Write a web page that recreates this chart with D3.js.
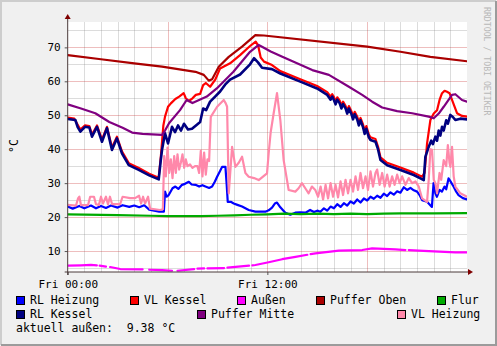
<!DOCTYPE html>
<html lang="de">
<head>
<meta charset="utf-8">
<title>Heizung</title>
<script src="https://cdn.jsdelivr.net/npm/d3@7"></script>
<style>
  body { margin: 0; background: #f0f0f0; }
  svg { display: block; font-family: "DejaVu Sans Mono", monospace; }
  .grid line { shape-rendering: crispEdges; }
  .grid path { display: none; }
  .series { fill: none; stroke-linejoin: round; stroke-linecap: round; }
</style>
</head>
<body>
<svg id="chart" width="497" height="346"></svg>
<script>

// hours since Fri 00:00 -> value in °C, null = gap in the data
var rlHeizung = [[0,23.1],[0.3,22.5],[0.7,23.3],[1.0,22.6],[1.4,23.4],[1.7,22.6],[2.0,23.3],[2.3,22.7],[2.6,23.4],[3.0,22.8],[3.3,23.5],[3.7,23.0],[4.0,23.4],[4.3,22.9],[4.6,23.5],[4.9,22.2],[5.5,21.6],[5.78,21.6],[5.85,27.5],[5.95,26.0],[6.07,26.5],[6.3,28.5],[6.47,29.0],[6.65,28.3],[6.87,29.5],[7.05,29.8],[7.28,30.4],[7.45,29.6],[7.68,29.5],[7.9,29.0],[8.1,29.4],[8.28,29.0],[8.5,28.6],[8.68,29.0],[8.85,30.5],[8.98,31.9],[9.15,33.5],[9.28,34.8],[9.48,34.8],[9.55,30],[9.62,24.5],[9.8,24.5],[9.98,24.0],[10.2,23.6],[10.48,23.1],[10.88,22.1],[11.28,21.6],[11.88,21.6],[12.08,22.0],[12.28,22.8],[12.45,24.0],[12.58,24.3],[12.78,22.9],[13.08,21.3],[13.38,20.7],[13.68,21.3],[13.97,21.4],[14.29,21.3],[14.57,22.1],[14.8,21.5],[15.0,21.9],[15.19,21.6],[15.4,22.6],[15.6,21.9],[15.8,23.1],[16.0,22.6],[16.2,23.8],[16.4,23.0],[16.6,24.1],[16.8,23.4],[17.0,24.6],[17.2,24.0],[17.4,25.2],[17.6,24.3],[17.8,25.5],[18.0,24.9],[18.2,26.0],[18.4,25.4],[18.6,26.3],[18.8,25.7],[19.0,26.9],[19.2,26.2],[19.4,27.3],[19.6,26.6],[19.8,27.6],[20.0,27.2],[20.2,28.8],[20.4,28.0],[20.6,28.6],[20.8,27.9],[21.0,27.5],[21.15,26.5],[21.3,25.0],[21.6,24.5],[21.89,23.0],[21.99,30.0],[22.1,27.0],[22.19,26.0],[22.35,28.0],[22.49,27.5],[22.65,29.0],[22.75,28.2],[22.89,31.4],[23.0,30.6],[23.19,29.0],[23.35,27.5],[23.49,26.5],[23.75,25.6],[24,25.2]];

var vlKessel = [[0,49.3],[0.4,49.0],[0.6,47.2],[0.76,45.8],[1.04,47.0],[1.3,46.8],[1.46,44.3],[1.76,47.0],[2.06,42.8],[2.36,46.6],[2.66,40.5],[2.96,43.7],[3.26,39.4],[3.67,35.9],[4.27,34.5],[4.9,32.8],[5.47,31.6],[5.6,38],[5.75,47],[5.85,49.6],[6.03,52.5],[6.2,53.5],[6.47,54.8],[6.7,55.5],[6.97,56.5],[7.1,55.0],[7.28,54.2],[7.5,55.0],[7.7,56.0],[7.96,56.3],[8.14,58.9],[8.3,59.5],[8.56,58.4],[8.86,60.4],[9.16,63.8],[9.76,65.3],[10.36,67.7],[10.96,70.4],[11.3,71.7],[11.45,70.5],[11.6,67],[11.8,65.8],[12.28,64.8],[12.78,63.0],[13.98,60.6],[14.99,58.6],[15.6,56.8],[15.8,55.5],[15.9,56.2],[16.0,55.4],[16.1,54.0],[16.2,55.3],[16.35,54.3],[16.45,52.9],[16.55,54.0],[16.7,52.8],[16.8,51.4],[16.9,52.7],[17.05,51.2],[17.15,49.7],[17.25,51.0],[17.4,49.6],[17.5,48.0],[17.6,49.2],[17.75,47.3],[17.85,45.5],[17.95,46.8],[18.1,44.3],[18.2,43.5],[18.5,43.0],[18.65,40.8],[18.8,37.6],[19.2,36.0],[20.0,34.6],[20.8,33.1],[21.3,31.9],[21.45,33],[21.6,41.7],[21.8,48.6],[22.0,50.5],[22.2,51.5],[22.35,54.5],[22.5,56.5],[22.65,57.2],[22.8,56.9],[22.95,56.5],[23.1,54.5],[23.4,50.6],[23.7,49.8],[24,49.6]];

var aussen = [[0,5.7],[0.8,5.8],[1.4,5.9],[1.75,5.8],[1.84,null],[1.92,5.7],[2.3,5.4],[2.43,null],[2.55,5.3],[3.16,4.7],[4.5,4.6],[4.6,null],[4.9,4.5],[5.67,4.4],[6.27,4.2],[6.5,null],[6.6,4.2],[7.6,4.7],[7.7,null],[7.8,4.8],[8.2,4.9],[8.3,null],[8.4,4.9],[9.4,5.0],[9.5,null],[9.6,5.1],[10.9,5.7],[11.0,null],[11.1,5.8],[11.28,5.9],[12.08,6.7],[12.89,7.6],[13.69,8.3],[14.4,8.9],[14.5,null],[14.6,9.1],[14.89,9.3],[16.3,10.1],[17.7,10.3],[18.3,10.8],[19.7,10.5],[20.3,10.3],[20.4,null],[20.5,10.3],[21.7,10.0],[23.3,9.6],[24,9.6]];

var pufferOben = [[0,67.7],[2,66.5],[4,65.3],[5.67,64.3],[7.68,62.8],[8.18,61.9],[8.48,60.2],[8.68,60.6],[9.08,64.3],[9.68,67.2],[10.48,70.2],[11.28,73.6],[11.8,73.5],[18,70.2],[20,68.7],[21.8,67.2],[24,65.9]];

var flur = [[0,20.8],[3,20.6],[5,20.4],[6,20.3],[8,20.3],[9,20.4],[10,20.5],[11,20.7],[12,20.8],[13,21.0],[14,20.9],[15,21.0],[16,20.9],[17,21.0],[18,20.9],[19,21.0],[20,21.1],[22,21.1],[24,21.2]];

var rlKessel = [[0,48.9],[0.46,48.6],[0.6,46.5],[0.76,45.2],[1.04,46.6],[1.3,46.4],[1.46,43.7],[1.76,46.6],[2.06,42.2],[2.36,46.2],[2.66,39.8],[2.96,43.2],[3.26,38.8],[3.67,35.3],[4.27,33.9],[4.9,32.3],[5.47,31.1],[5.6,37],[5.67,39.8],[5.85,44.7],[6.03,41.7],[6.27,46.6],[6.45,45.0],[6.63,47.0],[6.81,45.5],[6.99,47.5],[7.23,45.8],[7.47,46.0],[7.71,47.0],[7.96,48.0],[8.14,52.0],[8.32,51.5],[8.56,54.0],[8.86,55.5],[9.16,57.0],[9.46,59.0],[9.76,60.5],[10.36,62.0],[10.96,65.0],[11.2,66.8],[11.45,65.5],[11.68,64.0],[12.28,63.6],[12.78,62.3],[13.98,59.9],[14.99,57.9],[15.6,56.0],[15.8,54.6],[15.9,55.5],[16.0,54.5],[16.1,53.2],[16.2,54.6],[16.35,53.5],[16.45,52.0],[16.55,53.3],[16.7,52.0],[16.8,50.5],[16.9,52.0],[17.05,50.4],[17.15,48.8],[17.25,50.3],[17.4,48.8],[17.5,47.0],[17.6,48.5],[17.75,46.5],[17.85,44.5],[17.95,46.0],[18.1,43.5],[18.2,42.7],[18.5,42.2],[18.65,40],[18.8,36.8],[19.2,35.3],[20.0,33.9],[20.8,32.4],[21.2,31.4],[21.4,30.9],[21.5,37.8],[21.7,40.7],[21.85,42.5],[21.95,41.5],[22.1,43.7],[22.2,42.5],[22.3,45.5],[22.4,44.0],[22.5,46.6],[22.6,45.5],[22.75,48.5],[22.85,47.5],[23.0,50.1],[23.15,49.5],[23.3,48.6],[23.6,49.0],[24,48.8]];

var pufferMitte = [[0,53.2],[0.8,52.0],[1.66,50.6],[2.5,48.0],[3.3,46.3],[3.87,44.9],[4.5,44.5],[5.67,44.2],[5.85,45.5],[6.1,47.7],[6.75,51.5],[7.15,54.5],[7.5,53.6],[8.36,55.5],[8.96,57.9],[9.96,62.8],[10.96,68.7],[11.48,70.7],[11.68,70.2],[12.2,68.8],[12.9,67.2],[14.7,63.3],[15.7,61.9],[16.9,58.4],[17.7,56.0],[18.3,54.0],[18.9,52.3],[19.8,51.2],[20.7,50.6],[21.7,49.6],[22.0,49.1],[22.3,50.5],[22.6,52.5],[23.1,56.0],[23.3,56.2],[23.7,54.5],[24,54.0]];

var vlHeizung = [[0,23.6],[0.5,23.4],[0.62,25.5],[0.7,26],[0.8,23.5],[1.22,23.5],[1.35,26],[1.58,26],[1.7,23.8],[1.88,23.6],[2.0,26],[2.12,24],[2.3,26],[2.42,23.8],[2.54,26],[2.67,23.8],[3.15,23.8],[3.3,26],[3.75,25.6],[4.05,25.6],[4.29,26.3],[4.41,24],[4.53,26],[4.65,24],[4.83,26],[4.95,22.5],[5.55,22.1],[5.72,22.3],[5.8,38],[5.9,32],[6.0,40.5],[6.1,33],[6.2,37],[6.3,31.5],[6.4,38],[6.5,33],[6.6,38.5],[6.7,34],[6.8,36],[6.9,38.5],[7.0,34.5],[7.1,37],[7.2,35],[7.35,35.5],[7.5,34.5],[7.65,35],[7.8,35],[7.9,33],[8.0,39.5],[8.1,32],[8.2,39],[8.3,32.5],[8.4,37],[8.5,36.5],[8.6,49.5],[8.98,52.5],[9.38,54.5],[9.5,53.5],[9.58,52.5],[9.68,27],[9.88,40.7],[10.08,34.8],[10.28,36],[10.48,37.8],[10.68,33],[10.88,31.9],[11.2,31.5],[11.48,30.9],[11.98,32.9],[12.08,38.8],[12.2,45],[12.38,50.6],[12.58,56.5],[12.78,48.6],[12.98,36.8],[13.28,28],[13.68,27.5],[13.88,28.5],[14.08,30],[14.28,28.5],[14.48,27],[14.68,29],[14.88,28],[15.05,26],[15.2,29],[15.35,25.2],[15.5,29.5],[15.65,25.5],[15.8,30],[15.95,26],[16.1,29.5],[16.25,25.8],[16.4,30.5],[16.55,26.5],[16.7,31],[16.85,27],[17.0,31],[17.15,27.5],[17.3,32],[17.45,28],[17.6,33],[17.75,28.5],[17.9,32],[18.05,28],[18.2,33.5],[18.35,29],[18.5,33],[18.6,34],[18.75,29.5],[18.9,33],[19.05,29],[19.2,32.5],[19.35,29],[19.5,32],[19.65,29.5],[19.8,32.5],[19.95,30],[20.1,32],[20.3,29.5],[20.5,31.5],[20.7,30],[20.9,30.5],[21.1,29],[21.3,25.5],[21.45,25],[21.6,24.5],[21.7,31],[21.8,40],[21.9,39.8],[22.0,31],[22.1,30],[22.2,27],[22.35,33],[22.45,31],[22.6,36.8],[22.75,35],[22.85,41.2],[22.95,36],[23.0,34.8],[23.1,40.7],[23.2,32],[23.3,29],[23.6,27],[24,26]];

var seriesNames = ["RL Heizung", "VL Kessel", "Außen", "Puffer Oben", "Flur", "RL Kessel", "Puffer Mitte", "VL Heizung"];
var seriesColors = ["#0000ff", "#ff0000", "#ff00ff", "#aa0000", "#00aa00", "#000080", "#800080", "#ff88aa"];
var seriesData = [rlHeizung, vlKessel, aussen, pufferOben, flur, rlKessel, pufferMitte, vlHeizung];

var yMajor = [10, 20, 30, 40, 50, 60, 70];
var yMinor = [5, 15, 25, 35, 45, 55, 65, 75];
var xLabels = [[0, "Fri 00:00"], [12, "Fri 12:00"]];
var currentOutside = "9.38";

// plot box (don't call it "top", window.top is taken)
var pLeft = 67.7, pRight = 467, pTop = 22, pBottom = 272;

var svg = d3.select("#chart");

var x = d3.scaleLinear().domain([0, 24]).range([pLeft, pRight]);
var y = d3.scaleLinear().domain([3.83, 77.47]).range([pBottom, pTop]);

// frame
svg.append("rect").attr("width", 497).attr("height", 346).attr("fill", "#f0f0f0");
svg.append("path").attr("d", "M1,345V1H496").attr("fill", "none").attr("stroke", "#cdcdcd").attr("stroke-width", 2);
svg.append("path").attr("d", "M1,345H496V1").attr("fill", "none").attr("stroke", "#9b9b9b").attr("stroke-width", 2);

svg.append("rect")
  .attr("x", pLeft).attr("y", pTop)
  .attr("width", pRight - pLeft).attr("height", pBottom - pTop)
  .attr("fill", "#ffffff");

// grid
var hours = d3.range(1, 24);
svg.append("g").attr("class", "grid")
  .attr("transform", "translate(0," + pBottom + ")")
  .call(d3.axisBottom(x).tickValues(hours.filter(function(h){ return h % 6 != 0; })).tickSize(-(pBottom - pTop)).tickFormat(""))
  .selectAll("line").attr("stroke", "rgba(140,140,140,0.3)");

svg.append("g").attr("class", "grid")
  .attr("transform", "translate(" + pLeft + ",0)")
  .call(d3.axisLeft(y).tickValues(yMinor).tickSize(-(pRight - pLeft)).tickFormat(""))
  .selectAll("line").attr("stroke", "rgba(140,140,140,0.3)");

svg.append("g").attr("class", "grid")
  .attr("transform", "translate(0," + pBottom + ")")
  .call(d3.axisBottom(x).tickValues([6, 12, 18]).tickSize(-(pBottom - pTop)).tickFormat(""))
  .selectAll("line").attr("stroke", "rgba(200,40,40,0.3)");

svg.append("g").attr("class", "grid")
  .attr("transform", "translate(" + pLeft + ",0)")
  .call(d3.axisLeft(y).tickValues(yMajor).tickSize(-(pRight - pLeft)).tickFormat(""))
  .selectAll("line").attr("stroke", "rgba(200,40,40,0.3)");

// series
svg.append("clipPath").attr("id", "plotclip")
  .append("rect").attr("x", pLeft).attr("y", pTop).attr("width", pRight - pLeft).attr("height", pBottom - pTop);

var line = d3.line()
  .defined(function(d){ return d[1] != null; })
  .x(function(d){ return x(d[0]); })
  .y(function(d){ return y(d[1]); });

var plot = svg.append("g").attr("clip-path", "url(#plotclip)");
seriesData.forEach(function(data, i) {
  plot.append("path")
    .attr("class", "series")
    .attr("d", line(data))
    .attr("stroke", seriesColors[i])
    .attr("stroke-width", i == 5 ? 2.6 : 2.2);
});

// axes
var yAxis = svg.append("g")
  .attr("transform", "translate(" + pLeft + ",0)")
  .call(d3.axisLeft(y).tickValues(yMajor).tickSize(3).tickPadding(4));
yAxis.select(".domain").remove();
yAxis.selectAll("line").attr("stroke", "#555");
yAxis.selectAll("text").attr("font-family", "DejaVu Sans Mono").attr("font-size", 11).attr("fill", "#000");

var xAxis = svg.append("g")
  .attr("transform", "translate(0," + pBottom + ")")
  .call(d3.axisBottom(x).tickValues(xLabels.map(function(d){ return d[0]; }))
    .tickFormat(function(d){ return xLabels.find(function(l){ return l[0] == d; })[1]; })
    .tickSize(3).tickPadding(5));
xAxis.select(".domain").remove();
xAxis.selectAll("line").attr("stroke", "#555");
xAxis.selectAll("text").attr("font-family", "DejaVu Sans Mono").attr("font-size", 11).attr("fill", "#000");

svg.append("line").attr("x1", pLeft).attr("x2", pLeft).attr("y1", pBottom + 3).attr("y2", pTop - 4)
  .attr("stroke", "#4a3a3a").attr("stroke-width", 1);
svg.append("line").attr("x1", pLeft - 3).attr("x2", pRight + 2).attr("y1", pBottom).attr("y2", pBottom)
  .attr("stroke", "#4a3a3a").attr("stroke-width", 1);
svg.append("path").attr("d", "M" + (pLeft - 3) + "," + (pTop - 3) + "L" + pLeft + "," + (pTop - 8) + "L" + (pLeft + 3) + "," + (pTop - 3) + "Z")
  .attr("fill", "#7f0000");
svg.append("path").attr("d", "M" + (pRight + 1) + "," + (pBottom - 3) + "L" + (pRight + 6) + "," + pBottom + "L" + (pRight + 1) + "," + (pBottom + 3) + "Z")
  .attr("fill", "#7f0000");

// labels
svg.append("text")
  .attr("transform", "translate(18,146) rotate(-90)")
  .attr("text-anchor", "middle")
  .attr("font-size", 11.5)
  .text("°C");

svg.append("text")
  .attr("transform", "translate(484,7) rotate(90)")
  .attr("font-size", 8.2)
  .attr("fill", "#b8b8b8")
  .text("RRDTOOL / TOBI OETIKER");

// legend
var legendPos = [[16, 296], [130, 296], [237, 296], [316, 296], [437, 296],
                 [16, 310], [197, 310], [397, 310]];
var legend = svg.append("g").selectAll("g")
  .data(seriesNames)
  .enter().append("g")
  .attr("transform", function(d, i){ return "translate(" + legendPos[i][0] + "," + legendPos[i][1] + ")"; });

legend.append("rect")
  .attr("x", 0.5).attr("y", 0.5).attr("width", 8).attr("height", 8)
  .attr("fill", function(d, i){ return seriesColors[i]; })
  .attr("stroke", "#000").attr("stroke-width", 1);

legend.append("text")
  .attr("x", 14).attr("y", 8)
  .attr("font-size", 11.5)
  .text(function(d){ return d; });

svg.append("text")
  .attr("x", 16).attr("y", 332)
  .attr("font-size", 11.5)
  .style("white-space", "pre")
  .text("aktuell außen:  " + currentOutside + " °C");

</script>
</body>
</html>
